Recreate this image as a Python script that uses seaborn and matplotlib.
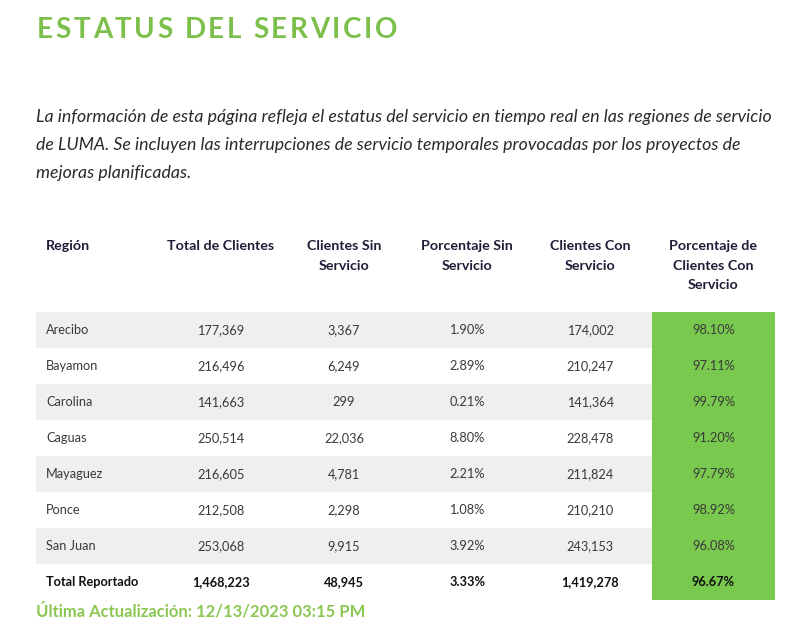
import numpy as np
import pandas as pd
import seaborn as sns
import matplotlib.pyplot as plt
from matplotlib.colors import ListedColormap
from matplotlib.transforms import blended_transform_factory

# Table data
regions = ['Arecibo', 'Bayamon', 'Carolina', 'Caguas', 'Mayaguez', 'Ponce', 'San Juan']
total_clientes = [177369, 216496, 141663, 250514, 216605, 212508, 253068]
sin_servicio = [3367, 6249, 299, 22036, 4781, 2298, 9915]
pct_sin = [1.90, 2.89, 0.21, 8.80, 2.21, 1.08, 3.92]
con_servicio = [174002, 210247, 141364, 228478, 211824, 210210, 243153]
pct_con = [98.10, 97.11, 99.79, 91.20, 97.79, 98.92, 96.08]
totals = ['Total Reportado', 1468223, 48945, 3.33, 1419278, 96.67]

headers = ['Región', 'Total de Clientes', 'Clientes Sin\nServicio', 'Porcentaje Sin\nServicio',
           'Clientes Con\nServicio', 'Porcentaje de\nClientes Con\nServicio']

title = 'ESTATUS DEL SERVICIO'
intro = ['La información de esta página refleja el estatus del servicio en tiempo real en las regiones de servicio',
         'de LUMA. Se incluyen las interrupciones de servicio temporales provocadas por los proyectos de',
         'mejoras planificadas.']
footer = 'Última Actualización: 12/13/2023 03:15 PM'

GREEN = '#79c94f'
GRAY = '#efefef'
TEXT = '#3a3a3a'
HEAD = '#1e1e38'

df = pd.DataFrame({
    'Región': regions + [totals[0]],
    'Total': total_clientes + [totals[1]],
    'Sin': sin_servicio + [totals[2]],
    'PctSin': pct_sin + [totals[3]],
    'Con': con_servicio + [totals[4]],
    'PctCon': pct_con + [totals[5]],
})
n_rows, n_cols = df.shape

# background codes: 0 white, 1 gray stripe, 2 green column
bg = np.zeros((n_rows, n_cols))
for i in range(len(regions)):
    if i % 2 == 0:
        bg[i, :] = 1
bg[:, -1] = 2

W, H = 800, 635
fig = plt.figure(figsize=(W / 100, H / 100), dpi=100)
plt.rcParams['font.family'] = ['Lato', 'DejaVu Sans']

def px(x, y):
    return x / W, 1 - y / H

left, right, top, bottom = 36, 775, 312, 600
ax = fig.add_axes([left / W, 1 - bottom / H, (right - left) / W, (bottom - top) / H])
sns.heatmap(bg, cmap=ListedColormap(['white', GRAY, GREEN]), vmin=0, vmax=2,
            cbar=False, xticklabels=False, yticklabels=False, linewidths=0, ax=ax)
ax.set_xlabel('')
ax.set_ylabel('')

col_w = n_cols / ((right - left))  # data units per pixel
for i, row in df.iterrows():
    bold = i == n_rows - 1
    w = 'bold' if bold else 'normal'
    c = '#111111' if bold else TEXT
    ax.text(10 * col_w, i + 0.5, row['Región'], ha='left', va='center', fontsize=9.2, color=c, weight=w)
    vals = [f"{row['Total']:,}", f"{row['Sin']:,}", f"{row['PctSin']:.2f}%",
            f"{row['Con']:,}", f"{row['PctCon']:.2f}%"]
    for j, v in enumerate(vals, start=1):
        ax.text(j + 0.5, i + 0.5, v, ha='center', va='center', fontsize=9.2, color=c, weight=w)

# headers
tr = blended_transform_factory(ax.transData, fig.transFigure)
for j, h in enumerate(headers):
    if j == 0:
        ax.text(10 * col_w, 1 - 240 / H, h, transform=tr, ha='left', va='top',
                fontsize=10.3, color=HEAD, weight='bold', linespacing=1.75)
    else:
        ax.text(j + 0.5, 1 - 240 / H, h, transform=tr, ha='center', va='top',
                fontsize=10.3, color=HEAD, weight='bold', linespacing=1.75, multialignment='center')

# title with letter spacing
renderer = fig.canvas.get_renderer()
x0 = 37
for ch in title:
    t = fig.text(*px(x0, 38), ch, fontsize=20, weight='bold', color='#7cbf4a', va='baseline')
    wpx = t.get_window_extent(renderer).width
    if ch == ' ':
        wpx = 7
    x0 += wpx + 2.6

for k, line in enumerate(intro):
    fig.text(*px(36, 117 + 28 * k), line, fontsize=12.8, style='italic', color='#2a2a2a', va='center')

fig.text(*px(36, 611), footer, fontsize=12, weight='bold', color='#8cc653', va='center')

fig.savefig('out.png', dpi=100, facecolor='white')
